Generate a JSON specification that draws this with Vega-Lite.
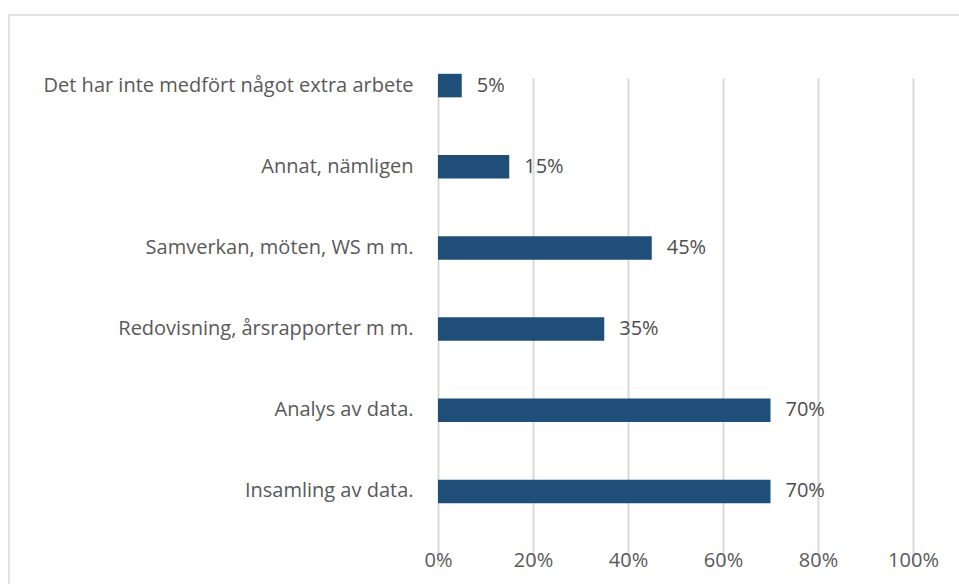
{
  "$schema": "https://vega.github.io/schema/vega-lite/v6.json",
  "autosize": {"type": "none"},
  "padding": {"left": 9, "top": 15, "right": 0, "bottom": 0},
  "width": 960,
  "height": 580,
  "background": "white",
  "config": {
    "view": {"stroke": "#d9d9d9", "strokeWidth": 1.5},
    "font": "Open Sans",
    "axis": {"labelFont": "Open Sans", "labelFontSize": 20, "labelColor": "#595959"}
  },
  "data": {
    "values": [
      {"kategori": "Det har inte medfört något extra arbete", "andel": 0.05},
      {"kategori": "Annat, nämligen", "andel": 0.15},
      {"kategori": "Samverkan, möten, WS m m.", "andel": 0.45},
      {"kategori": "Redovisning, årsrapporter m m.", "andel": 0.35},
      {"kategori": "Analys av data.", "andel": 0.70},
      {"kategori": "Insamling av data.", "andel": 0.70}
    ]
  },
  "encoding": {
    "y": {
      "field": "kategori",
      "type": "nominal",
      "sort": null,
      "title": null,
      "scale": {"range": [30, 517], "paddingInner": 0.71, "paddingOuter": 0.355},
      "axis": {"orient": "left", "offset": -429, "labelPadding": 25, "ticks": false, "domain": false, "grid": false, "labelLimit": 600}
    },
    "x": {
      "field": "andel",
      "type": "quantitative",
      "title": null,
      "scale": {"domain": [0, 1], "range": [429, 904], "nice": false},
      "axis": {
        "orient": "bottom",
        "offset": -63,
        "values": [0, 0.2, 0.4, 0.6, 0.8, 1],
        "format": ".0%",
        "domain": false,
        "ticks": false,
        "labelFlush": false,
        "labelPadding": 18,
        "grid": true,
        "gridColor": "#d9d9d9",
        "gridWidth": 2
      }
    }
  },
  "layer": [
    {"mark": {"type": "bar", "color": "#1f4e79"}},
    {
      "mark": {"type": "text", "align": "left", "baseline": "middle", "dx": 15, "fontSize": 20, "color": "#4d4d4d", "font": "Open Sans"},
      "encoding": {"text": {"field": "andel", "type": "quantitative", "format": ".0%"}}
    }
  ]
}
